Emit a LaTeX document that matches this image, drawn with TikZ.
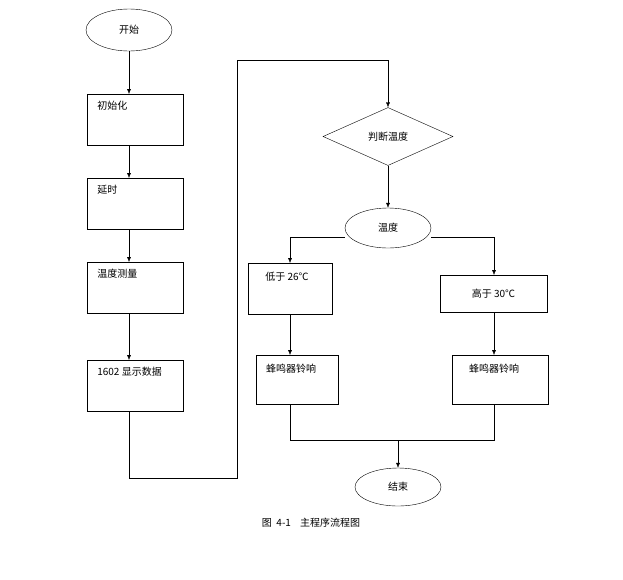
\documentclass[tikz,border=0pt]{standalone}
\usepackage{fontspec}
\setmainfont{Noto Sans CJK SC}
\usetikzlibrary{shapes.geometric,arrows.meta}
\tikzset{
  blk/.style={draw,minimum width=96pt,minimum height=51pt,inner sep=0pt},
  oval/.style={draw,ellipse,minimum width=86pt,minimum height=42pt,inner sep=0pt},
  dec/.style={draw,diamond,aspect=2.25,minimum width=130pt,minimum height=58pt,inner sep=0pt},
  lbl/.style={font=\fontsize{10}{12}\selectfont},
  arr/.style={-{Latex[length=5pt,width=4pt]}},
}
\begin{document}
\begin{tikzpicture}[x=1pt,y=-1pt]
    \useasboundingbox (0,0) rectangle (623,579);

    % left column
    \node[oval,lbl] (start) at (129,30) {开始};
    \node[blk] (init) at (135,119.5) {};
    \node[lbl,anchor=north west] at (init.north west) [xshift=7pt,yshift=-4pt] {初始化};
    \node[blk] (delay) at (135,203.5) {};
    \node[lbl,anchor=north west] at (delay.north west) [xshift=7pt,yshift=-4pt] {延时};
    \node[blk] (meas) at (135,287.5) {};
    \node[lbl,anchor=north west] at (meas.north west) [xshift=7pt,yshift=-4pt] {温度测量};
    \node[blk] (disp) at (135,385.5) {};
    \node[lbl,anchor=north west] at (disp.north west) [xshift=7pt,yshift=-4pt] {1602 显示数据};

    \draw[arr] (start) -- (129,94);
    \draw[arr] (129,145) -- (129,178);
    \draw[arr] (129,229) -- (129,262);
    \draw[arr] (129,313) -- (129,360);

    % right part
    \node[dec,lbl] (judge) at (388,136.5) {判断温度};
    \node[oval,lbl,minimum height=40pt] (temp) at (388,228) {温度};
    \coordinate (c1) at (129,478);
    \coordinate (c2) at (237,478);
    \coordinate (c3) at (237,60);
    \coordinate (c4) at (388,60);
    \draw[arr] (129,411) -- (c1) -- (c2) -- (c3) -- (c4) -- (judge.north);
    \draw[arr] (judge.south) -- (temp.north);

    \node[blk,minimum width=84pt] (low) at (290,288.5) {};
    \node[lbl,anchor=north west] at (low.north west) [xshift=14pt,yshift=-6pt] {低于 26℃};
    \node[blk,minimum width=107pt,minimum height=37pt] (high) at (493.5,293.5) {};
    \node[lbl] at (high.center) {高于 30℃};
    \node[blk,minimum width=82pt,minimum height=49pt] (bl) at (297,379.5) {};
    \node[lbl,anchor=north] at (bl.north) [xshift=-6pt,yshift=-6pt] {蜂鸣器铃响};
    \node[blk,minimum width=96pt,minimum height=49pt] (br) at (500,379.5) {};
    \node[lbl,anchor=north] at (br.north) [xshift=-6pt,yshift=-6pt] {蜂鸣器铃响};

    \draw[arr] (temp.west |- 0,237) -- (290,237) -- (290,263);
    \draw[arr] (temp.east |- 0,237) -- (494,237) -- (494,275);
    \draw[arr] (290,314) -- (290,355);
    \draw[arr] (494,312) -- (494,355);

    \node[oval,lbl,minimum height=38pt] (end) at (398,487) {结束};
    \coordinate (j) at (398,440);
    \draw (290,404) -- (290,440) -- (494,440) -- (494,404);
    \draw[arr] (j) -- (end.north);

    \node[lbl] (cap) at (311,523) {图\ \ 4-1\ \ \ \ 主程序流程图};
\end{tikzpicture}
\end{document}
